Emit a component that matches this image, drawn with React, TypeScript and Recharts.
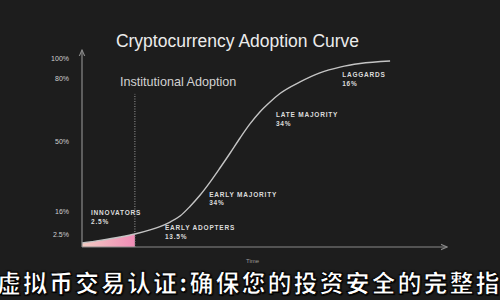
import React from 'react'
import { ComposedChart, Area, Line, XAxis, YAxis, ReferenceLine, ReferenceDot } from 'recharts'

// cumulative adoption curve (time on x, adoption share on y)
const times = [0, 5.8, 12.3, 17.1, 22, 25.2, 28.5, 31.7, 34.9, 38.2, 41.4, 44.6, 47.9, 51.1, 54.3, 57.5, 60.8, 64, 70.5, 76.9, 83.4, 89.9, 99.6]
const adoption = [2.1, 3.5, 5.3, 6.9, 9.1, 10.9, 13.3, 16.5, 21.6, 27.7, 34.6, 42.1, 50.1, 58.1, 65.6, 72.0, 77.3, 81.8, 88.0, 92.8, 95.9, 97.8, 99.1]

// end of the innovators segment, where institutional adoption kicks in
const innovatorsEnd = 17.1
const institutionalTop = 81.6

const yTickValues = [6.9, 18.7, 56.0, 89.6, 100.2]
const yTickLabels = ['2.5%', '16%', '50%', '80%', '100%']

const stageNames = ['INNOVATORS', 'EARLY ADOPTERS', 'EARLY MAJORITY', 'LATE MAJORITY', 'LAGGARDS']
const stageShares = ['2.5%', '13.5%', '34%', '34%', '16%']

// where each stage caption sits, in chart units
const stageAnchors = [
  { x: 2.9, y: 16.9 },
  { x: 26.8, y: 9.0 },
  { x: 41.1, y: 26.8 },
  { x: 62.7, y: 69.3 },
  { x: 84.1, y: 90.6 },
]

const data = times.map((t, i) => ({
  t,
  adoption: adoption[i],
  innovators: t <= innovatorsEnd ? adoption[i] : null,
}))

const axisColor = '#8a8a8a'

function StageLabel(props: any) {
  const { cx, cy, name, share } = props
  return (
    <text x={cx} y={cy} fill="#dcdcdc" fontSize={6.5} fontWeight={700} letterSpacing={0.8} fontFamily="Liberation Sans, Arial, sans-serif">
      <tspan x={cx}>{name}</tspan>
      <tspan x={cx} dy={8.7}>{share}</tspan>
    </text>
  )
}

export default function App() {
  return (
    <div style={{ position: 'absolute', left: 0, top: 0, width: 500, height: 300, background: '#1d1d1d', overflow: 'hidden', fontFamily: 'Liberation Sans, Arial, sans-serif' }}>
      <style>{'body{margin:0}'}</style>
      <div style={{ position: 'absolute', left: 0, width: 475, top: 31, textAlign: 'center', color: '#ececec', fontSize: 17.5 }}>
        Cryptocurrency Adoption Curve
      </div>
      <div style={{ position: 'absolute', left: 120, top: 75, color: '#d2d2d2', fontSize: 12.6 }}>
        Institutional Adoption
      </div>
      <ComposedChart width={500} height={300} data={data} margin={{ top: 50, right: 53, bottom: 0, left: 0 }}>
        <defs>
          <marker id="arrow" viewBox="0 0 10 10" refX="9" refY="5" markerWidth="6" markerHeight="6" orient="auto-start-reverse">
            <path d="M0,1 L9,5 L0,9" fill="none" stroke={axisColor} strokeWidth={1.5} />
          </marker>
          <linearGradient id="innovFill" x1="0" y1="0" x2="1" y2="0">
            <stop offset="0%" stopColor="#f3cbc2" />
            <stop offset="100%" stopColor="#f08cb6" />
          </linearGradient>
        </defs>
        <XAxis
          dataKey="t"
          type="number"
          domain={[0, 118]}
          height={53}
          ticks={[]}
          tickLine={false}
          axisLine={{ stroke: axisColor, strokeWidth: 1.2, markerEnd: 'url(#arrow)' } as any}
          label={{ value: 'Time', position: 'insideTop', dx: -12, dy: 7, fill: '#9a9a9a', fontSize: 6 }}
        />
        <YAxis
          type="number"
          domain={[0, 105]}
          width={82}
          ticks={yTickValues}
          tickFormatter={(v: number) => yTickLabels[yTickValues.indexOf(v)]}
          tick={{ fill: '#d0d0d0', fontSize: 7 }}
          tickLine={false}
          tickMargin={7}
          axisLine={{ stroke: axisColor, strokeWidth: 1.2, markerStart: 'url(#arrow)' } as any}
        />
        <Area
          dataKey="innovators"
          type="monotone"
          stroke="none"
          fill="url(#innovFill)"
          fillOpacity={1}
          connectNulls={false}
          isAnimationActive={false}
        />
        <ReferenceLine
          segment={[{ x: innovatorsEnd, y: 0 }, { x: innovatorsEnd, y: institutionalTop }]}
          stroke="#9a9a9a"
          strokeDasharray="1 1.5"
        />
        <Line dataKey="adoption" type="monotone" stroke="#c4c4c4" strokeWidth={1.4} dot={false} isAnimationActive={false} />
        {stageAnchors.map((a, i) => (
          <ReferenceDot
            key={stageNames[i]}
            x={a.x}
            y={a.y}
            r={0}
            shape={(p: any) => <StageLabel {...p} name={stageNames[i]} share={stageShares[i]} />}
          />
        ))}
      </ComposedChart>
      <div
        style={{
          position: 'absolute',
          left: -3,
          top: 264,
          whiteSpace: 'nowrap',
          fontFamily: '"Noto Sans CJK SC", sans-serif',
          fontWeight: 900,
          fontSize: 24,
          letterSpacing: 2,
          color: '#ffffff',
          WebkitTextStroke: '1px #000',
          textShadow: '0 0 2px #000, 1px 1px 1px #000',
        }}
      >
        虚拟币交易认证:确保您的投资安全的完整指南
      </div>
    </div>
  )
}
